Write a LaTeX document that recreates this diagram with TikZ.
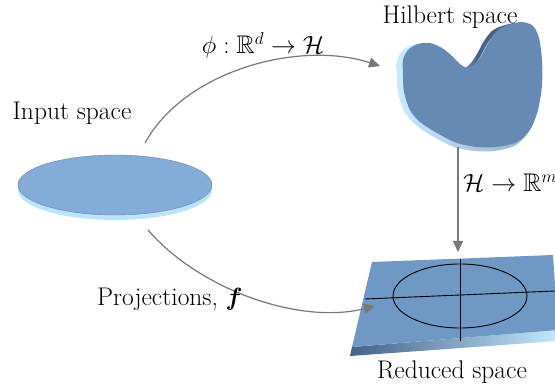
\documentclass[tikz,border=0pt]{standalone}
\usepackage{amsmath,amssymb,bm}
\usetikzlibrary{arrows.meta}
\definecolor{disctop}{RGB}{132,172,216}
\definecolor{discrim}{RGB}{185,228,250}
\definecolor{discline}{RGB}{110,130,150}
\definecolor{blobface}{RGB}{102,138,180}
\definecolor{blobrim}{RGB}{200,232,252}
\definecolor{blobdark}{RGB}{72,98,132}
\definecolor{planeface}{RGB}{112,152,196}
\definecolor{planedark}{RGB}{70,98,136}
\definecolor{planelight}{RGB}{195,232,252}
\definecolor{arrowgray}{RGB}{120,120,120}
% side wall of the blob: light on the left, dark further right
\pgfdeclarehorizontalshading{blobside}{100bp}{color(0bp)=(blobrim); color(25bp)=(blobrim);
  color(40bp)=(blobrim); color(54bp)=(blobdark); color(100bp)=(blobdark)}
\begin{document}
\begin{tikzpicture}[x=1pt,y=-1pt,
  lbl/.style={font=\fontsize{25.5}{30}\selectfont, inner sep=0pt},
  conn/.style={draw=arrowgray, line width=1.2pt, -{Triangle[length=11pt,width=10pt]}}]
\useasboundingbox (0,0) rectangle (555,390);

% ---- input space: a flat disc ----
\fill[discrim] (115,190) ellipse (97 and 30);
\fill[disctop, draw=discline, line width=0.4pt] (115,185) ellipse (97 and 30);
\coordinate (discTop) at (145,143);
\coordinate (discBot) at (148,230);
\node[lbl] (inlbl) at (72,113) {Input space};

% ---- Hilbert space: an extruded blob ----
\def\blobpath{plot[smooth cycle, tension=0.5] coordinates {
  (403,60) (408,50) (418,44) (430,43) (442,48) (452,56) (460,64)
  (468,68) (476,63) (483,53) (490,40) (498,30) (508,25) (522,22)
  (533,26) (539,38) (542,60) (542,85) (538,110) (530,130) (517,142)
  (497,147) (477,147) (457,143) (437,133) (420,122) (410,110)
  (404,92) (403,75)}}
\begin{scope}[shift={(-6,1)}]
  \shade[shading=blobside] \blobpath;
\end{scope}
\begin{scope}[shift={(-3,4)}]
  \shade[left color=blobrim, right color=blobface!70!white] \blobpath;
\end{scope}
\fill[blobface] \blobpath;
\coordinate (blobIn) at (380,66);
\coordinate (blobOut) at (458,147);
\node[lbl] (hlbl) at (450,17) {Hilbert space};

% ---- reduced space: a tilted slab with axes and an ellipse ----
\shade[left color=planedark, right color=planelight]
  (352,347) -- (558,330) -- (558,341) -- (350,356) -- cycle;
\fill[planeface] (372,262) -- (553,255) -- (558,330) -- (352,347) -- cycle;
\draw[black, line width=0.9pt] (460,296) ellipse (67 and 32);
\draw[black, line width=0.9pt] (365,299) -- (555,291);
\draw[black, line width=0.9pt] (460,259) -- (460,341);
\coordinate (planeTop) at (458,252);
\coordinate (planeIn) at (375,306);
\node[lbl] (rlbl) at (452,372) {Reduced space};

% ---- maps between the spaces ----
\draw[conn] (discTop) .. controls (185,70) and (300,40) .. (blobIn);
\node[lbl] (philbl) at (263,45) {$\phi:\mathbb{R}^d\to\mathcal{H}$};

\draw[conn] (blobOut) -- (planeTop);
\node[lbl, anchor=west] (hmlbl) at (463,183) {$\mathcal{H}\to\mathbb{R}^m$};

\draw[conn] (discBot) .. controls (200,290) and (300,325) .. (planeIn);
\node[lbl, anchor=west] (projlbl) at (97,299) {Projections, $\bm{f}$};
\end{tikzpicture}
\end{document}
